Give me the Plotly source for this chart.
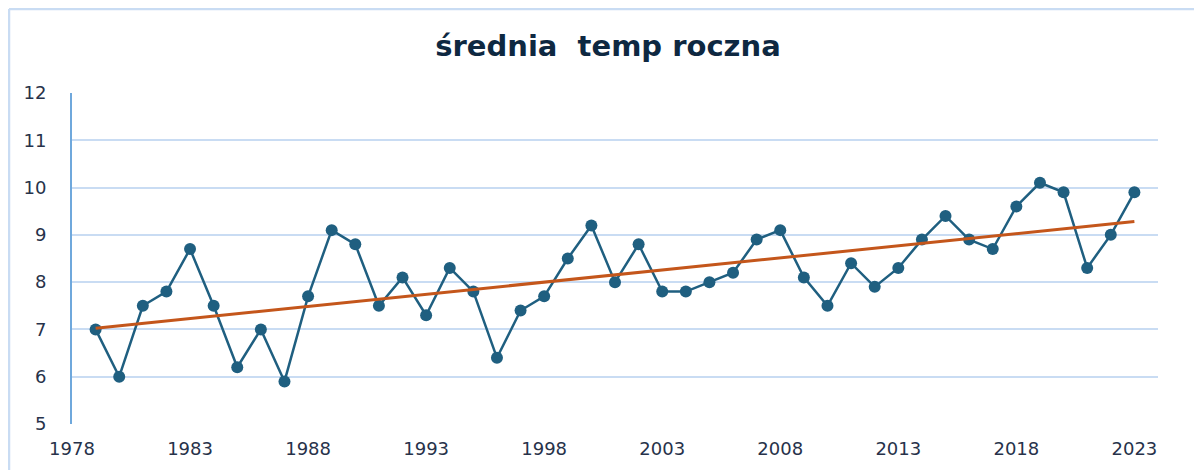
import numpy as np
import plotly.graph_objects as go

years = list(range(1979, 2024))
temps = [7.0, 6.0, 7.5, 7.8, 8.7, 7.5, 6.2, 7.0, 5.9, 7.7,
         9.1, 8.8, 7.5, 8.1, 7.3, 8.3, 7.8, 6.4, 7.4, 7.7,
         8.5, 9.2, 8.0, 8.8, 7.8, 7.8, 8.0, 8.2, 8.9, 9.1,
         8.1, 7.5, 8.4, 7.9, 8.3, 8.9, 9.4, 8.9, 8.7, 9.6,
         10.1, 9.9, 8.3, 9.0, 9.9]
x_ticks = [1978, 1983, 1988, 1993, 1998, 2003, 2008, 2013, 2018, 2023]
y_ticks = [5, 6, 7, 8, 9, 10, 11, 12]
title_text = "średnia\u00a0 temp roczna"

# linear trend (least squares) from the data
coef = np.polyfit(years, temps, 1)
trend = list(np.polyval(coef, [years[0], years[-1]]))

fig = go.Figure()
fig.add_trace(go.Scatter(
    x=years, y=temps, mode="lines+markers",
    line=dict(color="#1f5f80", width=2.5),
    marker=dict(color="#1f5f80", size=12),
    showlegend=False, hoverinfo="x+y"))
fig.add_trace(go.Scatter(
    x=[years[0], years[-1]], y=trend, mode="lines",
    line=dict(color="#c4561b", width=3),
    showlegend=False, hoverinfo="skip"))

# page body has an 8px margin, so the figure is drawn 8px in from the window edge
OFF = 8
W, H = 1202 - OFF, 470 - OFF
ml, mr, mt, mb = 72 - OFF, 44, 93 - OFF, 46
pw, ph = W - ml - mr, H - mt - mb

bx = (1.0 - ml) / pw
by = 1 + (mt - 1.0) / ph

fig.update_layout(
    width=W, height=H,
    margin=dict(l=ml, r=mr, t=mt, b=mb),
    paper_bgcolor="white", plot_bgcolor="white",
    title=dict(text="<b>" + title_text + "</b>", x=(608 - OFF) / W, xref="container", xanchor="center",
               y=1 - (46 - OFF) / H, yref="container", yanchor="middle",
               font=dict(family="DejaVu Sans", size=29, color="#0e2841")),
    font=dict(family="DejaVu Sans", size=18, color="#27324a"),
    xaxis=dict(range=[1978, 2024], tickvals=x_ticks, ticktext=[str(v) for v in x_ticks],
               showgrid=False, zeroline=False, showline=False, ticks="",
               ticklabelstandoff=12, fixedrange=True),
    yaxis=dict(range=[5, 12], tickvals=y_ticks, showgrid=True, gridcolor="#c9dcf3",
               gridwidth=2, zeroline=False, showline=True, linecolor="#6fa8dc",
               linewidth=2, ticks="", ticklabelstandoff=20, fixedrange=True),
    shapes=[
        dict(type="line", xref="paper", yref="paper",
             x0=bx, x1=bx, y0=-mb / ph - 0.01, y1=by,
             line=dict(color="#c9dcf3", width=2.5)),
        dict(type="line", xref="paper", yref="paper",
             x0=bx, x1=(W - ml) / pw + 0.01, y0=by, y1=by,
             line=dict(color="#c9dcf3", width=2.5)),
    ],
)

fig.write_html("out.html")
